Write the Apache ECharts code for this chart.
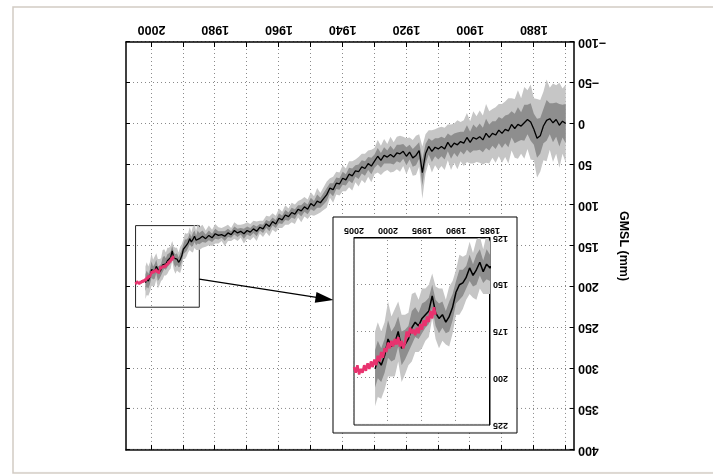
<!DOCTYPE html>
<html><head><meta charset="utf-8">
<script src="https://cdn.jsdelivr.net/npm/echarts@6.0.0/dist/echarts.min.js"></script>
<style>
html,body{margin:0;padding:0;background:#fff;overflow:hidden}
#wrap{width:713px;height:475px;transform:rotate(180deg);transform-origin:50% 50%}
#chart{width:713px;height:475px}
</style></head>
<body><div id="wrap"><div id="chart"></div></div>
<script>
// ---- data ----
// reconstruction: annual 1870-1984, then half-yearly 1985-2001.9
const annualMean = [
  0, -3, 2, -5, -1, -6, -4, 3, 15, 18,
  7, -2, -5, -1, 3, 1, 6, 1, 9, 7,
  12, 8, 14, 12, 17, 12, 20, 16, 19, 17,
  23, 17, 24, 22, 26, 24, 29, 23, 31, 28,
  31, 29, 34, 28, 37, 60, 33, 39, 42, 35,
  40, 34, 37, 36, 41, 38, 41, 39, 45, 40,
  46, 52, 49, 55, 53, 59, 58, 64, 62, 69,
  67, 74, 73, 81, 79, 87, 92, 97, 95, 101,
  98, 105, 102, 107, 105, 111, 109, 114, 112, 118,
  116, 123, 120, 126, 123, 129, 127, 132, 129, 133,
  131, 135, 132, 134, 131, 136, 134, 138, 136, 137,
  135, 140, 137, 141, 138
];
const halfYearMean = [
  141, 139, 143, 138, 142, 145, 141, 146, 149, 150,
  154, 162, 167, 170, 166, 168, 165, 156, 164, 166,
  168, 172, 170, 173, 179, 182, 184, 175, 181, 183,
  179, 188, 193, 190, 195
];
const sigmaValues = [
  24, 20, 26, 21, 24, 19, 25, 21, 22, 24,
  19, 23, 18, 22, 17, 21, 18, 16, 20, 17,
  18, 16, 17, 15, 16, 18, 15, 16, 14, 16,
  13, 15, 14, 12, 15, 12, 14, 11, 13, 12,
  13, 11, 13, 10, 12, 16, 10, 12, 11, 9,
  11, 9, 11, 10, 9, 11, 8, 10, 9, 10,
  8, 10, 8, 9, 8, 9, 7, 9, 8, 7,
  8, 7, 7, 8, 6, 8, 7, 6, 8, 6,
  7, 6, 6, 7, 5, 6, 6, 5, 6, 5,
  6, 5, 5, 6, 5, 5, 4, 6, 5, 5,
  5, 6, 4, 5, 5, 4, 5, 6, 4, 5,
  6, 5, 6, 5, 7,
  7, 8, 6, 7, 8, 6, 7, 6, 7, 8,
  6, 7, 8, 6, 7, 8, 7, 6, 7, 7,
  8, 7, 8, 9, 7, 8, 9, 8, 9, 8,
  10, 9, 9, 10, 10
];
// satellite altimetry, quarterly 1993.0-2005.0
const altimetry = [
  166, 162, 168, 164, 170, 167, 172, 169, 174, 171,
  176, 173, 177, 174, 176, 173, 178, 175, 181, 184,
  180, 183, 178, 182, 179, 183, 180, 184, 181, 186,
  184, 189, 186, 191, 188, 193, 190, 194, 191, 195,
  192, 196, 193, 197, 195, 198, 193, 197, 194
];
const xTickYears = [1870, 1880, 1890, 1900, 1910, 1920, 1930, 1940, 1950, 1960, 1970, 1980, 1990, 2000];
const xLabelYears = [1880, 1900, 1920, 1940, 1960, 1980, 2000];
const zoomBox = [[1985, 125], [2005, 225]];
const arrowFrom = [1985, 190.5];
const arrowTo = [1945.7, 214.6];

// sampling times
const reconYears = [];
for (let y = 1870; y <= 1984; y++) reconYears.push(y);
for (let y = 1985; y <= 2001.5; y += 0.5) reconYears.push(y);
reconYears.push(2001.9);
const gmsl = annualMean.concat(halfYearMean);
const altYears = [];
for (let i = 0; i < altimetry.length; i++) altYears.push(1993 + i * 0.25);

// ---- build series data ----
const meanPts = reconYears.map((x, i) => [x, gmsl[i]]);
const altPts = altYears.map((x, i) => [x, altimetry[i]]);

const FONT = '"Liberation Sans", Arial, Helvetica, sans-serif';
const LIGHT = '#c6c6c6', DARK = '#8e8e8e', PINK = '#e8336f';
const dotted = { show: true, lineStyle: { color: '#8a8a8a', width: 1, type: [1, 3] } };
const yFmt = v => (v < 0 ? '\u2212' + (-v) : String(v));
const xFmt = v => String(v);

// uncertainty band (mean +/- k sigma) as one polygon, drawn through the axes
function band(xi, yi, k, color, z, fromYear) {
  return {
    type: 'custom', xAxisIndex: xi, yAxisIndex: yi, z: z, silent: true,
    data: [[1990, 150]],
    renderItem: function (params, api) {
      const up = [], lo = [];
      reconYears.forEach((x, i) => {
        if (x < fromYear) return;
        up.push(api.coord([x, gmsl[i] + k * sigmaValues[i]]));
        lo.push(api.coord([x, gmsl[i] - k * sigmaValues[i]]));
      });
      const cs = params.coordSys;
      return {
        type: 'polygon',
        shape: { points: up.concat(lo.reverse()) },
        style: { fill: color, stroke: null },
        clipPath: { type: 'rect', shape: { x: cs.x, y: cs.y, width: cs.width, height: cs.height } }
      };
    }
  };
}

const mainLabel = { color: '#000', fontFamily: FONT, fontWeight: 'bold', fontSize: 12.5 };
const insetLabel = { color: '#000', fontFamily: FONT, fontWeight: 'bold', fontSize: 9 };

const option = {
  animation: false,
  backgroundColor: '#fff',
  grid: [
    { left: 139, right: 126, top: 25, bottom: 42, show: false },
    { left: 223, right: 354, top: 50, bottom: 238, show: true, backgroundColor: '#fff',
      borderColor: '#000', borderWidth: 1, z: 11 }
  ],
  xAxis: [
    { type: 'value', gridIndex: 0, min: 1867.4, max: 2008, position: 'bottom',
      axisLine: { show: true, onZero: false, lineStyle: { color: '#000', width: 1.5 } },
      axisTick: { show: true, inside: true, length: 5, customValues: xTickYears, lineStyle: { color: '#000' } },
      axisLabel: Object.assign({ margin: 6, customValues: xLabelYears, formatter: xFmt }, mainLabel),
      splitLine: dotted },
    { type: 'value', gridIndex: 0, min: 1867.4, max: 2008, position: 'top',
      axisLine: { show: true, onZero: false, lineStyle: { color: '#000', width: 1.5 } },
      axisTick: { show: true, inside: true, length: 5, customValues: xTickYears, lineStyle: { color: '#000' } },
      axisLabel: { show: false }, splitLine: { show: false } },
    { type: 'value', gridIndex: 1, min: 1985, max: 2005, interval: 5, z: 12,
      axisLine: { show: true, onZero: false, lineStyle: { color: '#000', width: 1 } },
      axisTick: { show: false },
      axisLabel: Object.assign({ margin: 3, formatter: xFmt }, insetLabel),
      splitLine: dotted }
  ],
  yAxis: [
    { type: 'value', gridIndex: 0, min: -100, max: 400, interval: 50, position: 'left',
      name: 'GMSL (mm)', nameLocation: 'middle', nameGap: 37,
      nameTextStyle: { color: '#000', fontFamily: FONT, fontWeight: 'bold', fontSize: 12.5 },
      axisLine: { show: true, onZero: false, lineStyle: { color: '#000', width: 1.5 } },
      axisTick: { show: true, inside: true, length: 4, lineStyle: { color: '#000' } },
      axisLabel: Object.assign({ margin: 4, formatter: yFmt }, mainLabel),
      splitLine: dotted },
    { type: 'value', gridIndex: 0, min: -100, max: 400, interval: 50, position: 'right',
      axisLine: { show: true, onZero: false, lineStyle: { color: '#000', width: 1.5 } },
      axisTick: { show: true, inside: true, length: 4, lineStyle: { color: '#000' } },
      axisLabel: { show: false }, splitLine: { show: false } },
    { type: 'value', gridIndex: 1, min: 125, max: 225, interval: 25, z: 12,
      axisLine: { show: true, onZero: false, lineStyle: { color: '#000', width: 1 } },
      axisTick: { show: false },
      axisLabel: Object.assign({ margin: 3, formatter: yFmt }, insetLabel),
      splitLine: dotted }
  ],
  graphic: [
    { type: 'rect', z: 10, silent: true,
      shape: { x: 196, y: 42, width: 184, height: 216 },
      style: { fill: '#fff', stroke: '#000', lineWidth: 1 } },
    { type: 'rect', z: 10, silent: true,
      shape: { x: -5, y: 2, width: 705, height: 466 },
      style: { fill: 'none', stroke: '#d2cbc4', lineWidth: 1.5 } }
  ],
  series: [
    band(0, 0, 2, LIGHT, 2, 0),
    band(0, 0, 1, DARK, 2.1, 0),
    { type: 'line', xAxisIndex: 0, yAxisIndex: 0, data: meanPts, symbol: 'none', showSymbol: false,
      silent: true, z: 3, lineStyle: { color: '#000', width: 1.3 },
      markArea: { silent: true, itemStyle: { color: 'rgba(0,0,0,0)', borderColor: '#222', borderWidth: 1 },
        data: [[{ coord: zoomBox[0] }, { coord: zoomBox[1] }]] },
      markLine: { silent: true, symbol: ['none', 'triangle'], symbolSize: [11, 18],
        lineStyle: { color: '#000', width: 1.2, type: 'solid' }, label: { show: false },
        data: [[{ coord: arrowFrom }, { coord: arrowTo }]] } },
    { type: 'line', xAxisIndex: 0, yAxisIndex: 0, data: altPts, symbol: 'none', showSymbol: false,
      silent: true, z: 4, lineStyle: { color: PINK, width: 2 } },
    band(2, 2, 2, LIGHT, 13, 1985),
    band(2, 2, 1, DARK, 13.1, 1985),
    { type: 'line', xAxisIndex: 2, yAxisIndex: 2, data: meanPts, symbol: 'none', showSymbol: false,
      silent: true, z: 14, lineStyle: { color: '#000', width: 1.5 } },
    { type: 'line', xAxisIndex: 2, yAxisIndex: 2, data: altPts, symbol: 'none', showSymbol: false,
      silent: true, z: 15, lineStyle: { color: PINK, width: 2.5 } }
  ]
};
const chart = echarts.init(document.getElementById('chart'), null, { renderer: 'canvas' });
chart.setOption(option);
</script></body></html>
